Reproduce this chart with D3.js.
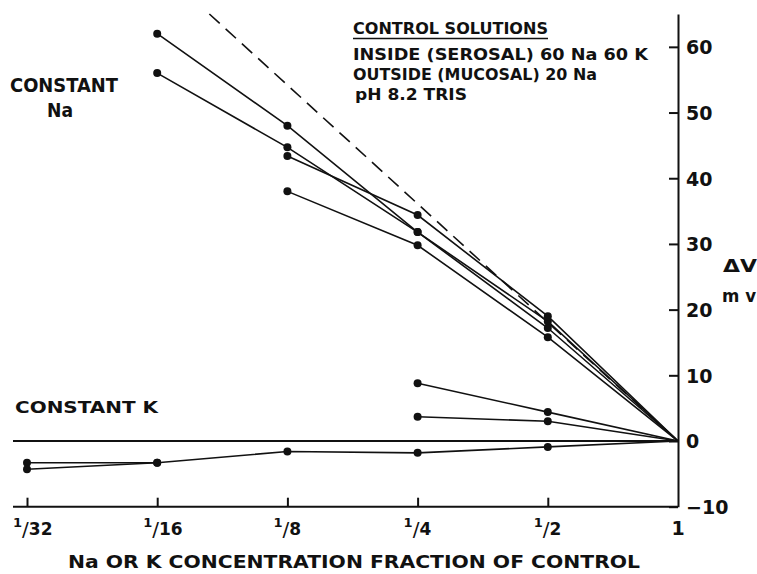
<!DOCTYPE html>
<html>
<head>
<meta charset="utf-8">
<script src="https://cdn.jsdelivr.net/npm/d3@7"></script>
<style>
  body { margin: 0; background: #fff; }
  svg text { font-family: "DejaVu Sans", sans-serif; fill: #111; }
</style>
</head>
<body>
<svg id="chart" width="757" height="574"></svg>
<script>
// Concentration fractions (x) and their labels
var fractions = [1/32, 1/16, 1/8, 1/4, 1/2, 1];
var fracLabels = [["1", "32"], ["1", "16"], ["1", "8"], ["1", "4"], ["1", "2"], null];
var yTicks = [-10, 0, 10, 20, 30, 40, 50, 60];

// Constant Na runs: [fraction, delta V mv]
var naRuns = [
  [[1/16, 62], [1/8, 48], [1/4, 31.8], [1/2, 18.2], [1, 0]],
  [[1/16, 56], [1/8, 44.7], [1/4, 31.8], [1/2, 17.2], [1, 0]],
  [[1/8, 43.4], [1/4, 34.4], [1/2, 19.0], [1, 0]],
  [[1/8, 38], [1/4, 29.8], [1/2, 15.8], [1, 0]]
];

// Constant K runs
var kRuns = [
  [[1/4, 8.8], [1/2, 4.4], [1, 0]],
  [[1/4, 3.7], [1/2, 3.0], [1, 0]],
  [[1/32, -3.3], [1/16, -3.3], [1/8, -1.6], [1/4, -1.8], [1/2, -0.9], [1, 0]],
  [[1/32, -4.3], [1/16, -3.3]]
];

// Nernst slope line, 60 mv per decade
var nernst = [[0.0825, 65], [1/2, 18.06], [1, 0]];

var svg = d3.select("#chart");

var x = d3.scaleLog().base(2).domain([1/32, 1]).range([27, 678]);
var y = d3.scaleLinear().domain([-10, 65]).range([506.7, 14]);

var line = d3.line()
  .x(function(d) { return x(d[0]); })
  .y(function(d) { return y(d[1]); });

/*
 * AXES
 * =============================== */

// bottom axis line runs a bit past the first tick
svg.append("line")
  .attr("x1", 13).attr("x2", x(1))
  .attr("y1", y(-10)).attr("y2", y(-10))
  .attr("stroke", "#111").attr("stroke-width", 2);

// zero reference
svg.append("line")
  .attr("x1", 13).attr("x2", x(1))
  .attr("y1", y(0)).attr("y2", y(0))
  .attr("stroke", "#111").attr("stroke-width", 2);

var xAxis = svg.append("g")
  .attr("transform", "translate(0," + y(-10) + ")")
  .call(d3.axisBottom(x).tickValues(fractions.slice(0, 5))
    .tickSizeInner(-9).tickSizeOuter(0).tickFormat(""));
xAxis.select(".domain").remove();
xAxis.selectAll("line").attr("stroke", "#111").attr("stroke-width", 2);

var yAxis = svg.append("g")
  .attr("transform", "translate(" + x(1) + ",0)")
  .call(d3.axisRight(y).tickValues(yTicks)
    .tickSizeInner(-9).tickSizeOuter(0).tickPadding(8)
    .tickFormat(function(d) { return d < 0 ? "\u2212" + Math.abs(d) : d; }));
yAxis.select(".domain").attr("stroke", "#111").attr("stroke-width", 2);
yAxis.selectAll("line").attr("stroke", "#111").attr("stroke-width", 2);
yAxis.selectAll("text")
  .attr("font-size", 19)
  .attr("font-family", "DejaVu Sans, sans-serif")
  .style("font-weight", "bold")
  .attr("fill", "#111").attr("dy", "0.36em");

// fraction labels under the ticks: raised 1, slash, denominator in one text
fractions.forEach(function(f, i) {
  var lab = fracLabels[i];
  if (!lab) {
    svg.append("text").attr("x", x(f)).attr("y", 535)
      .attr("text-anchor", "middle").attr("font-size", 19)
      .style("font-weight", "bold").text("1");
    return;
  }
  var t = svg.append("text").attr("x", x(f) - 14).attr("y", 535)
    .style("font-weight", "bold");
  t.append("tspan").attr("font-size", 13).attr("dy", -8).text(lab[0]);
  t.append("tspan").attr("font-size", 20).attr("dy", 9)
    .style("font-weight", "normal").text("/");
  t.append("tspan").attr("font-size", 17).attr("dy", -1).text(lab[1]);
});

/*
 * DATA
 * =============================== */

svg.append("path")
  .datum(nernst)
  .attr("d", line)
  .attr("fill", "none")
  .attr("stroke", "#111")
  .attr("stroke-width", 1.6)
  .attr("stroke-dasharray", "14,8");

var runs = naRuns.concat(kRuns);

svg.selectAll("path.run")
  .data(runs)
  .enter().append("path")
  .attr("class", "run")
  .attr("d", line)
  .attr("fill", "none")
  .attr("stroke", "#111")
  .attr("stroke-width", 1.6);

var pts = [];
runs.forEach(function(r) {
  r.forEach(function(p) { if (p[0] < 1) pts.push(p); });
});

svg.selectAll("circle")
  .data(pts)
  .enter().append("circle")
  .attr("cx", function(d) { return x(d[0]); })
  .attr("cy", function(d) { return y(d[1]); })
  .attr("r", 4)
  .attr("fill", "#111");

/*
 * LABELS
 * =============================== */

function label(txt, px, py, size, len) {
  var t = svg.append("text")
    .attr("x", px).attr("y", py)
    .attr("font-size", size)
    .style("font-weight", "bold")
    .text(txt);
  if (len) t.attr("textLength", len).attr("lengthAdjust", "spacingAndGlyphs");
  return t;
}

label("CONSTANT", 10, 92, 19, 108);
label("Na", 47, 117, 19, 26);
label("CONSTANT  K", 15, 413, 16, 143);

label("CONTROL SOLUTIONS", 353, 34, 15, 195);
svg.append("line")
  .attr("x1", 353).attr("x2", 548).attr("y1", 38.5).attr("y2", 38.5)
  .attr("stroke", "#111").attr("stroke-width", 1.6);
label("INSIDE  (SEROSAL)   60 Na   60 K", 353, 60, 15, 295);
label("OUTSIDE (MUCOSAL)  20 Na", 353, 80, 15, 244);
label("pH  8.2  TRIS", 355, 100, 15, 112);

label("\u0394V", 723, 272, 17, 34);
label("m v", 722, 302, 17, 34);

label("Na  OR  K  CONCENTRATION  FRACTION  OF  CONTROL", 68, 568, 17, 572);
</script>
</body>
</html>
